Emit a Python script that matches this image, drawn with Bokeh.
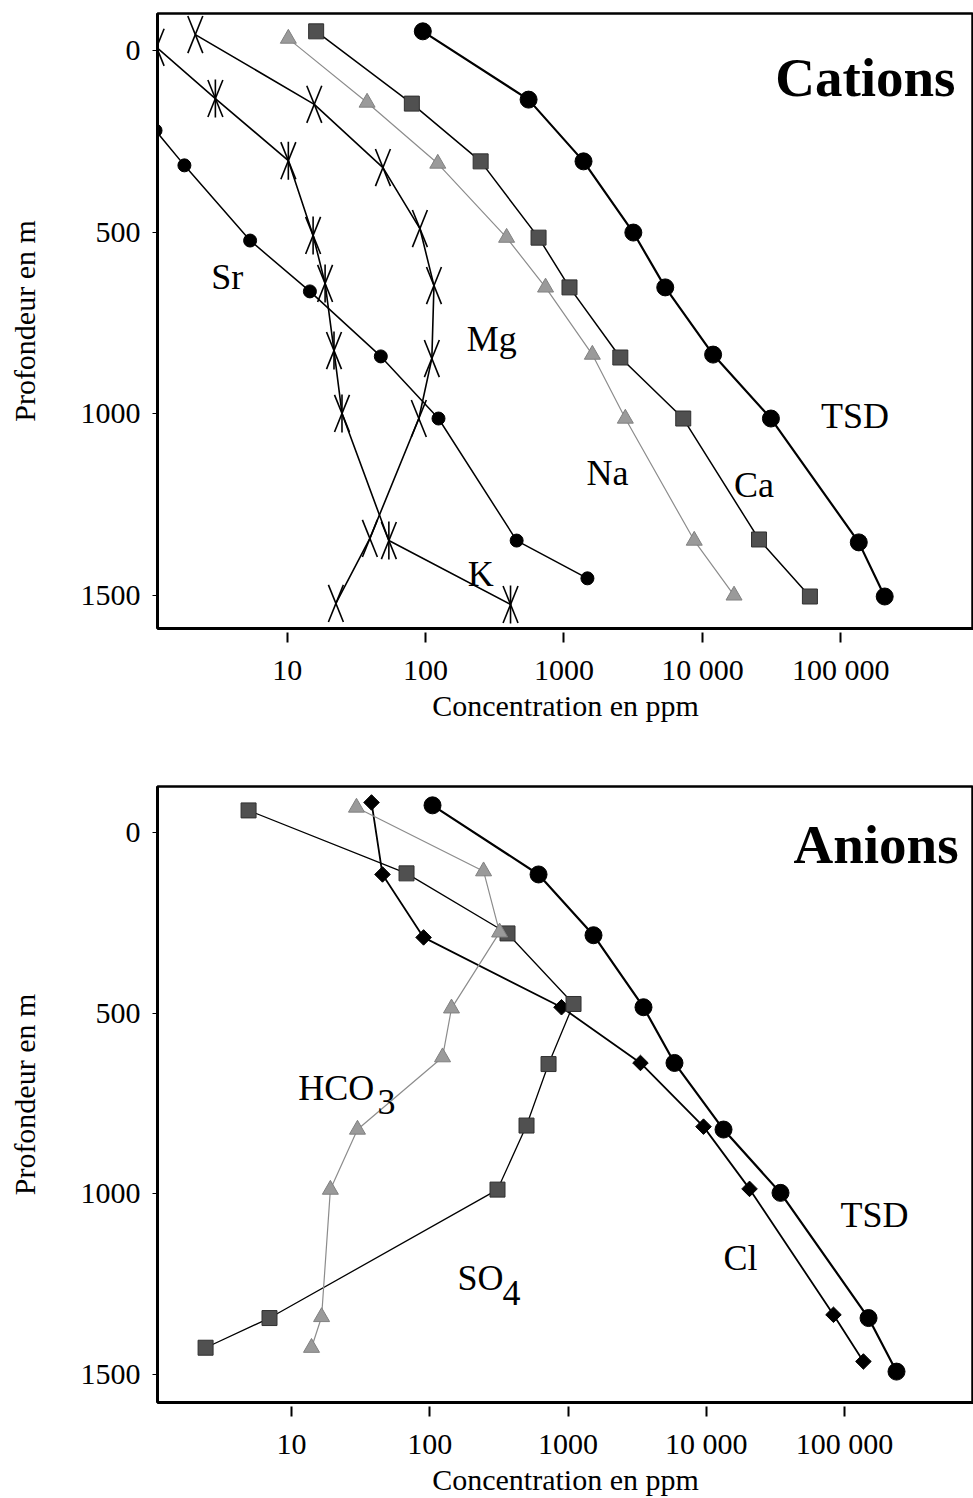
from bokeh.plotting import figure
from bokeh.models import Range1d, FixedTicker, CustomJSTickFormatter
from bokeh.layouts import column
from bokeh.embed import file_html
from bokeh.resources import INLINE
from bokeh.core.properties import value

# ---------------- data : cations (ppm, depth m) ----------------
cat_tsd_ppm = [95.5, 555, 1384, 3170, 5390, 11950, 31270, 134800, 207500]
cat_tsd_depth = [-53, 135, 305, 501, 652, 837, 1013, 1354, 1503]
ca_ppm = [16.2, 79.6, 250, 655, 1096, 2553, 7270, 25650, 59800]
ca_depth = [-53, 146, 305, 515, 652, 845, 1013, 1346, 1503]
na_ppm = [10.2, 37.8, 122.5, 385, 736, 1603, 2775, 8730, 16930]
na_depth = [-33, 143, 311, 515, 652, 837, 1013, 1349, 1500]
mg_ppm = [2.17, 15.7, 49.2, 91, 115, 111, 89.4, 39.6, 22.5]
mg_depth = [-44, 148, 322, 490, 647, 848, 1013, 1343, 1522]
k_ppm = [1.14, 3.03, 10.2, 15.4, 18.8, 21.8, 24.9, 54.3, 411]
k_depth = [-9, 132, 303, 509, 641, 826, 999, 1349, 1525]
sr_ppm = [1.12, 1.81, 5.4, 14.6, 47.5, 124, 455, 1477]
sr_depth = [220, 316, 523, 663, 842, 1013, 1349, 1453]

# ---------------- data : anions (ppm, depth m) ----------------
an_tsd_ppm = [104.7, 612, 1529, 3515, 5890, 13330, 34440, 149200, 237700]
an_tsd_depth = [-74, 117, 285, 484, 638, 822, 997, 1343, 1491]
cl_ppm = [37.9, 45.5, 90.2, 897, 3342, 9550, 20560, 83200, 137000]
cl_depth = [-82, 117, 291, 484, 638, 814, 986, 1334, 1463]
so4_ppm = [4.89, 67.9, 365, 1096, 723, 501, 309, 6.93, 2.39]
so4_depth = [-60, 114, 280, 475, 641, 811, 988, 1343, 1425]
hco3_ppm = [29.5, 245, 320, 143.6, 123.7, 30, 19.1, 16.5, 13.95]
hco3_depth = [-68, 108, 277, 487, 622, 822, 988, 1340, 1425]

# ---------------- axis ticks ----------------
x_ticks = [10, 100, 1000, 10000, 100000]
y_ticks = [0, 500, 1000, 1500]
x_title = "Concentration en ppm"
y_title = "Profondeur en m"

SERIF = "Liberation Serif"


def make_fig(xr, yr, height, mb_top, mb_bottom, mb_left):
    p = figure(width=973, height=height, x_axis_type="log",
               x_range=Range1d(*xr), y_range=Range1d(*yr),
               output_backend="svg", toolbar_location=None,
               min_border_left=mb_left, min_border_right=0,
               min_border_top=mb_top, min_border_bottom=mb_bottom)
    p.xgrid.grid_line_color = None
    p.ygrid.grid_line_color = None
    p.outline_line_color = "black"
    p.outline_line_width = 2.5
    p.outline_line_alpha = 1.0
    p.background_fill_color = "white"
    p.border_fill_color = "white"

    xa = p.xaxis[0]
    ya = p.yaxis[0]
    xa.ticker = FixedTicker(ticks=x_ticks, minor_ticks=[])
    xa.formatter = CustomJSTickFormatter(code="""
        const s = Math.round(tick).toString();
        return s.length > 4 ? s.replace(/\\B(?=(\\d{3})+(?!\\d))/g, ' ') : s;
    """)
    ya.ticker = FixedTicker(ticks=y_ticks, minor_ticks=[])
    for ax in (xa, ya):
        ax.axis_line_width = 3
        ax.axis_line_color = "black"
        ax.major_label_text_font = SERIF
        ax.major_label_text_font_size = "30px"
        ax.major_label_text_color = "black"
        ax.axis_label_text_font = SERIF
        ax.axis_label_text_font_size = "30px"
        ax.axis_label_text_font_style = "normal"
        ax.axis_label_text_color = "black"
        ax.minor_tick_line_color = None
    xa.axis_label = x_title
    ya.axis_label = y_title
    xa.major_tick_in = -4
    xa.major_tick_out = 14
    xa.major_tick_line_width = 2
    xa.major_label_standoff = 10
    xa.axis_label_standoff = 0
    ya.major_tick_in = 0
    ya.major_tick_out = 5
    ya.major_tick_line_width = 1
    ya.major_label_standoff = 12
    ya.axis_label_standoff = 37
    return p


def xmarks(p, xs, ys, vertical=False):
    for ang in (68, -68):
        p.scatter(xs, ys, marker="dash", size=40, angle=ang, angle_units="deg",
                  line_color="black", line_width=1.6)
    if vertical:
        p.scatter(xs, ys, marker="dash", size=38, angle=90, angle_units="deg",
                  line_color="black", line_width=1.6)


def label(p, x, y, txt, size="36px", style="normal", align="left"):
    p.text(x=[x], y=[y], text=[txt], text_font=value(SERIF), text_font_size=size,
           text_font_style=style, text_align=align, text_baseline="alphabetic",
           text_color="black")


# ================= Cations =================
p1 = make_fig((1.157, 909000), (1591.1, -102.1), 770, 13, 142, 155)

p1.line(cat_tsd_ppm, cat_tsd_depth, line_color="black", line_width=2.2)
p1.line(ca_ppm, ca_depth, line_color="black", line_width=1.5)
p1.line(na_ppm, na_depth, line_color="#8c8c8c", line_width=1.2)
p1.line(mg_ppm, mg_depth, line_color="black", line_width=1.6)
p1.line(k_ppm, k_depth, line_color="black", line_width=1.6)
p1.line(sr_ppm, sr_depth, line_color="black", line_width=1.5)

p1.scatter(cat_tsd_ppm, cat_tsd_depth, marker="circle", size=17, fill_color="black", line_color="black")
p1.scatter(ca_ppm, ca_depth, marker="square", size=15, fill_color="#505050", line_color="#303030")
p1.scatter(na_ppm, na_depth, marker="triangle", size=16, fill_color="#9a9a9a", line_color="#808080")
p1.scatter(sr_ppm, sr_depth, marker="circle", size=13, fill_color="black", line_color="black")
xmarks(p1, mg_ppm, mg_depth, vertical=False)
xmarks(p1, k_ppm, k_depth, vertical=True)

label(p1, 674000, 74, "Cations", size="55px", style="bold", align="right")
label(p1, 2.83, 622, "Sr")
label(p1, 198, 793, "Mg")
label(p1, 1452, 1164, "Na")
label(p1, 16940, 1195, "Ca")
label(p1, 71800, 1005, "TSD")
label(p1, 202, 1440, "K")

# ================= Anions =================
p2 = make_fig((1.073, 857000), (1576.4, -126.1), 728, 16, 95, 157)

p2.line(an_tsd_ppm, an_tsd_depth, line_color="black", line_width=2.2)
p2.line(cl_ppm, cl_depth, line_color="black", line_width=1.8)
p2.line(so4_ppm, so4_depth, line_color="black", line_width=1.3)
p2.line(hco3_ppm, hco3_depth, line_color="#8c8c8c", line_width=1.2)

p2.scatter(an_tsd_ppm, an_tsd_depth, marker="circle", size=17, fill_color="black", line_color="black")
p2.scatter(cl_ppm, cl_depth, marker="square", size=11, angle=45, angle_units="deg",
           fill_color="black", line_color="black")
p2.scatter(so4_ppm, so4_depth, marker="square", size=15, fill_color="#505050", line_color="#303030")
p2.scatter(hco3_ppm, hco3_depth, marker="triangle", size=16, fill_color="#9a9a9a", line_color="#808080")

label(p2, 668000, 34, "Anions", size="55px", style="bold", align="right")
label(p2, 11.2, 707, "HCO")
label(p2, 41.9, 746, "3")
label(p2, 158.7, 1232, "SO")
label(p2, 335.6, 1273, "4")
label(p2, 13340, 1176, "Cl")
label(p2, 93500, 1058, "TSD")

layout = column(p1, p2, spacing=0)
open("out.html", "w").write(file_html(layout, INLINE))
